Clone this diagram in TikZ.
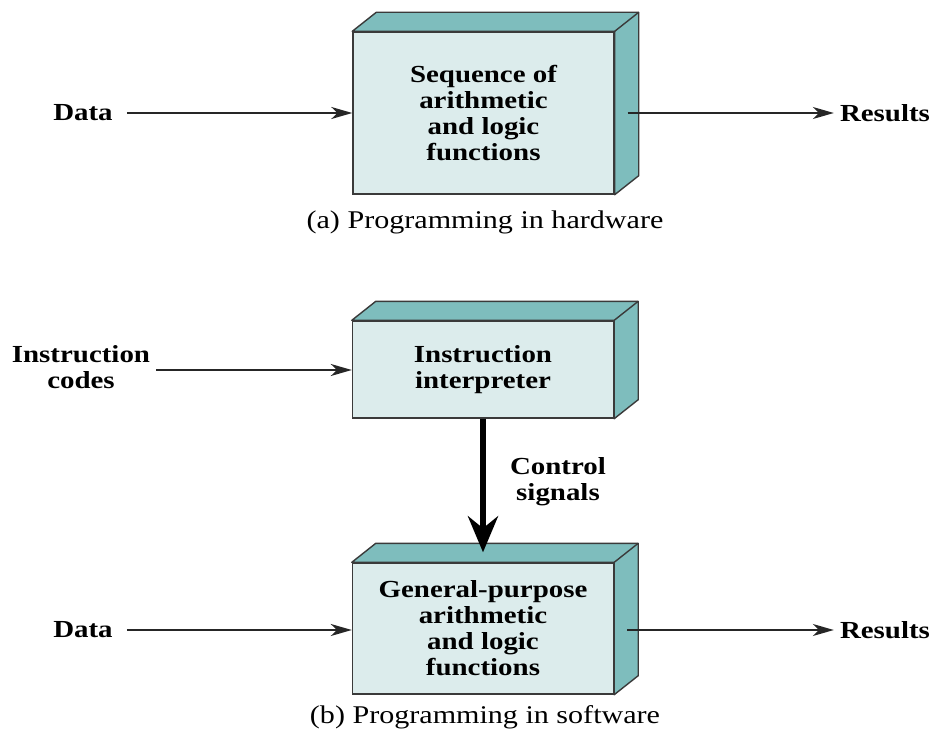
\documentclass[tikz,border=0pt]{standalone}
\usepackage{fontspec}
\setmainfont{Liberation Serif}[FakeStretch=1.18]
\usetikzlibrary{calc,arrows.meta}
\definecolor{faceclr}{HTML}{DCECEC}
\definecolor{sideclr}{HTML}{7EBDBD}
\definecolor{edgeclr}{HTML}{3A3A3A}
\begin{document}
\begin{tikzpicture}[x=1pt,y=-1pt,
  front/.style={draw=edgeclr,line width=1.4pt,fill=faceclr,minimum width=261pt,
    align=center,font=\fontsize{24.5}{26}\selectfont\bfseries,inner sep=0pt},
  lbl/.style={align=center,font=\fontsize{24.5}{26}\selectfont\bfseries,inner sep=6pt},
  caption/.style={font=\fontsize{25.5}{28}\selectfont},
  flow/.style={line width=1.8pt,draw=black!85,-{Stealth[length=21pt,width=12pt,inset=6pt]}},
  ctrl/.style={line width=6pt,-{Stealth[length=36pt,width=30pt,inset=12pt]}}]
\useasboundingbox (0,0) rectangle (935,733);

% a 3-D box: front face as a node, with top and right faces behind it
\newcommand{\solidbox}[4]{%
  \node[front,minimum height=#3] (#1) at #2 {#4};
  \fill[sideclr,draw=edgeclr,line width=1.4pt,line join=round]
    (#1.north west) -- ++(24,-19) -- ($(#1.north east)+(24,-19)$)
    -- ($(#1.south east)+(24,-19)$) -- (#1.south east) -- (#1.north east) -- cycle;
  \draw[edgeclr,line width=1.4pt] (#1.north east) -- ++(24,-19);
}

% (a) programming in hardware
\solidbox{hw}{(483.5,113)}{162pt}{Sequence of\\arithmetic\\and logic\\functions}
\node[lbl,inner sep=0pt] (dataA) at (83,113) {Data};
\node[lbl] (resA) at (885,113) {Results};
\draw[flow] ($(dataA.east)+(14,0)$) -- (hw.west);
\draw[flow] ($(hw.east)+(13,0)$) -- (resA.west);
\node[caption] (capA) at (485,222) {(a) Programming in hardware};

% (b) programming in software
\solidbox{interp}{(483,369.5)}{97pt}{Instruction\\interpreter}
\solidbox{alu}{(483,628.5)}{131pt}{General-purpose\\arithmetic\\and logic\\functions}
\node[lbl] (codes) at (81,367) {Instruction\\codes};
\draw[flow] (codes.east|-0,370) -- (interp.west|-0,370);
\draw[ctrl] (interp.south) -- ($(alu.north)+(0,-10)$);
\node[lbl,inner sep=0pt] (sig) at (558,482) {Control\\signals};
\node[lbl,inner sep=0pt] (dataB) at (83,630) {Data};
\node[lbl] (resB) at (885,630) {Results};
\draw[flow] ($(dataB.east)+(14,0)$) -- (alu.west|-dataB);
\draw[flow] ($(alu.east|-resB)+(13,0)$) -- (resB.west);
\node[caption] (capB) at (485,717) {(b) Programming in software};
\end{tikzpicture}
\end{document}
